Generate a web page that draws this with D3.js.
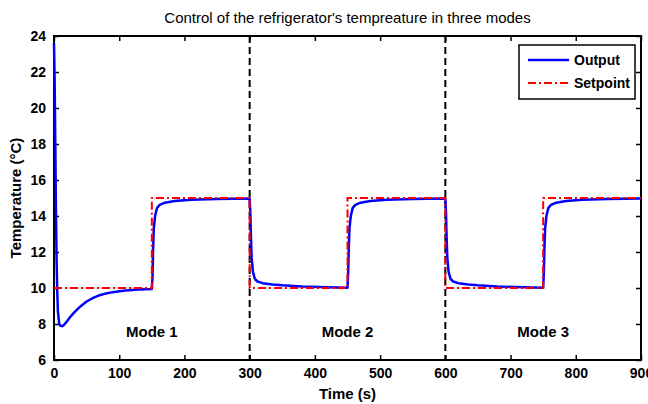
<!DOCTYPE html>
<html>
<head>
<meta charset="utf-8">
<script src="https://cdnjs.cloudflare.com/ajax/libs/d3/7.8.5/d3.min.js"></script>
<style>
  body { margin: 0; background: #fff; }
  text { font-family: "Liberation Sans Narrow", "Arial Narrow", "Liberation Sans", Arial, sans-serif; }
</style>
</head>
<body>
<div id="chart"></div>
<script>
// data
var outputTime = [0, 1, 2, 3, 4, 5, 6, 8, 10, 13, 16, 20, 25, 30, 40, 50, 60, 70, 80, 90, 100, 110, 120, 130, 140, 150,
  151, 152, 153, 155, 158, 162, 170, 185, 210, 250, 300,
  301, 302, 303, 305, 308, 312, 320, 335, 350, 380, 420, 450,
  451, 452, 453, 455, 458, 462, 470, 485, 510, 550, 600,
  601, 602, 603, 605, 608, 612, 620, 635, 650, 680, 720, 750,
  751, 752, 753, 755, 758, 762, 770, 785, 810, 850, 900];
var outputTemp = [23.6, 21.5, 18, 14.3, 11.5, 9.8, 8.7, 8.0, 7.9, 7.88, 7.98, 8.15, 8.4, 8.6, 8.96, 9.25, 9.45, 9.6, 9.7, 9.77, 9.82, 9.86, 9.89, 9.91, 9.93, 9.94,
  10.6, 12.2, 13.3, 14.0, 14.45, 14.62, 14.74, 14.83, 14.9, 14.95, 14.97,
  14.2, 12.8, 11.7, 10.9, 10.5, 10.36, 10.27, 10.2, 10.15, 10.08, 10.04, 10.02,
  10.8, 12.3, 13.3, 14.0, 14.45, 14.62, 14.74, 14.83, 14.9, 14.95, 14.97,
  14.2, 12.8, 11.7, 10.9, 10.5, 10.36, 10.27, 10.2, 10.15, 10.08, 10.04, 10.02,
  10.8, 12.3, 13.3, 14.0, 14.45, 14.62, 14.74, 14.83, 14.9, 14.95, 14.97];

var setpointTime = [0, 150, 150, 300, 300, 450, 450, 600, 600, 750, 750, 900];
var setpointTemp = [10, 10, 15, 15, 10, 10, 15, 15, 10, 10, 15, 15];

var modeBounds = [300, 600];
var modeNames = ["Mode 1", "Mode 2", "Mode 3"];
var modeCenters = [150, 450, 750];

var xTicks = [0, 100, 200, 300, 400, 500, 600, 700, 800, 900];
var yTicks = [6, 8, 10, 12, 14, 16, 18, 20, 22, 24];

var width = 648, height = 404;
var margin = { left: 54, right: 7, top: 36, bottom: 44 };

var svg = d3.select("#chart").append("svg")
  .attr("width", width)
  .attr("height", height);

var x = d3.scaleLinear().domain([0, 900]).range([margin.left, width - margin.right]);
var y = d3.scaleLinear().domain([6, 24]).range([height - margin.bottom, margin.top]);

// clip for curves (a little wider so the first drop shows over the axis)
svg.append("clipPath").attr("id", "plot-clip")
  .append("rect")
  .attr("x", x(0) - 2).attr("y", y(24))
  .attr("width", x(900) - x(0) + 2).attr("height", y(6) - y(24));

// frame
svg.append("rect")
  .attr("x", x(0)).attr("y", y(24))
  .attr("width", x(900) - x(0)).attr("height", y(6) - y(24))
  .attr("fill", "none")
  .attr("stroke", "#000")
  .attr("stroke-width", 2);

// axes with inward ticks
var tickLen = 5;
svg.append("g")
  .attr("transform", "translate(0," + y(6) + ")")
  .call(d3.axisBottom(x).tickValues(xTicks).tickSizeInner(-tickLen).tickSizeOuter(0).tickPadding(8))
  .call(function(g) { g.select(".domain").remove(); });
svg.append("g")
  .attr("transform", "translate(0," + y(24) + ")")
  .call(d3.axisTop(x).tickValues(xTicks).tickSizeInner(-tickLen).tickSizeOuter(0).tickFormat(""))
  .call(function(g) { g.select(".domain").remove(); });
svg.append("g")
  .attr("transform", "translate(" + x(0) + ",0)")
  .call(d3.axisLeft(y).tickValues(yTicks).tickSizeInner(-tickLen).tickSizeOuter(0).tickPadding(8))
  .call(function(g) { g.select(".domain").remove(); });
svg.append("g")
  .attr("transform", "translate(" + x(900) + ",0)")
  .call(d3.axisRight(y).tickValues(yTicks).tickSizeInner(-tickLen).tickSizeOuter(0).tickFormat(""))
  .call(function(g) { g.select(".domain").remove(); });

svg.selectAll(".tick line").attr("stroke", "#000").attr("stroke-width", 1.5);
svg.selectAll(".tick text")
  .attr("fill", "#000")
  .style("font-size", "14px")
  .style("font-weight", "bold");

var plot = svg.append("g").attr("clip-path", "url(#plot-clip)");

// mode boundaries
plot.selectAll(".mode-line")
  .data(modeBounds).enter().append("line")
  .attr("class", "mode-line")
  .attr("x1", function(d) { return x(d); })
  .attr("x2", function(d) { return x(d); })
  .attr("y1", y(24))
  .attr("y2", y(6))
  .attr("stroke", "#000")
  .attr("stroke-width", 2)
  .attr("stroke-dasharray", "7,4");

var outputData = outputTime.map(function(t, i) { return [t, outputTemp[i]]; });
var setpointData = setpointTime.map(function(t, i) { return [t, setpointTemp[i]]; });

var line = d3.line()
  .x(function(d) { return x(d[0]); })
  .y(function(d) { return y(d[1]); });

plot.append("path")
  .datum(outputData)
  .attr("d", line)
  .attr("fill", "none")
  .attr("stroke", "#0000ff")
  .attr("stroke-width", 2.5)
  .attr("stroke-linejoin", "round");

plot.append("path")
  .datum(setpointData)
  .attr("d", line)
  .attr("fill", "none")
  .attr("stroke", "#ff0000")
  .attr("stroke-width", 2)
  .attr("stroke-dasharray", "8,3,2,3");

// mode labels
svg.selectAll(".mode-label")
  .data(modeNames).enter().append("text")
  .attr("class", "mode-label")
  .attr("x", function(d, i) { return x(modeCenters[i]); })
  .attr("y", 337)
  .attr("text-anchor", "middle")
  .style("font-size", "15px")
  .style("font-weight", "bold")
  .text(function(d) { return d; });

// title and axis labels
svg.append("text")
  .attr("x", x(450))
  .attr("y", 23)
  .attr("text-anchor", "middle")
  .style("font-size", "15px")
  .text("Control of the refrigerator's tempreature in three modes");

svg.append("text")
  .attr("x", x(450))
  .attr("y", 399)
  .attr("text-anchor", "middle")
  .style("font-size", "15px")
  .style("font-weight", "bold")
  .text("Time (s)");

svg.append("text")
  .attr("transform", "translate(21," + y(15) + ") rotate(-90)")
  .attr("text-anchor", "middle")
  .style("font-size", "15px")
  .style("font-weight", "bold")
  .text("Temperature (°C)");

// legend
var legend = svg.append("g").attr("transform", "translate(519,45)");
legend.append("rect")
  .attr("width", 116).attr("height", 54)
  .attr("fill", "#fff")
  .attr("stroke", "#000")
  .attr("stroke-width", 1.5);
var legendItems = [
  { name: "Output", color: "#0000ff", dash: null, w: 2.5 },
  { name: "Setpoint", color: "#ff0000", dash: "8,3,2,3", w: 2 }
];
legendItems.forEach(function(d, i) {
  var yy = 15 + i * 23;
  legend.append("line")
    .attr("x1", 9).attr("x2", 50)
    .attr("y1", yy).attr("y2", yy)
    .attr("stroke", d.color)
    .attr("stroke-width", d.w)
    .attr("stroke-dasharray", d.dash);
  legend.append("text")
    .attr("x", 55).attr("y", yy + 5)
    .style("font-size", "14px")
    .style("font-weight", "bold")
    .text(d.name);
});
</script>
</body>
</html>
